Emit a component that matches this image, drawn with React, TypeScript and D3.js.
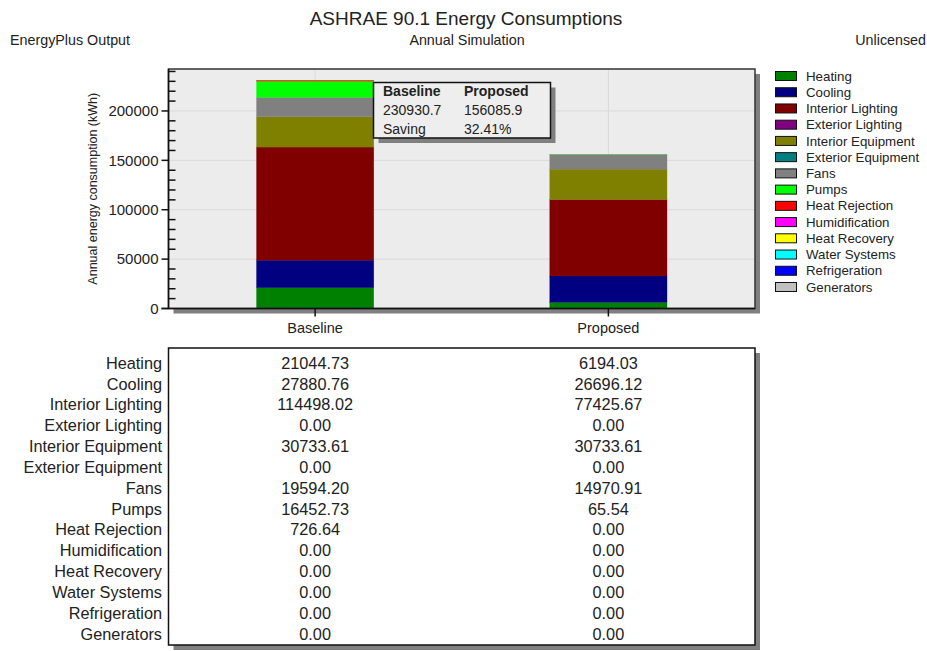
import React from "react";
import * as d3 from "d3";

const categories = [
  "Heating", "Cooling", "Interior Lighting", "Exterior Lighting", "Interior Equipment",
  "Exterior Equipment", "Fans", "Pumps", "Heat Rejection", "Humidification",
  "Heat Recovery", "Water Systems", "Refrigeration", "Generators",
];
const colors = [
  "#008000", "#000080", "#800000", "#800080", "#808000", "#008080", "#808080",
  "#00ff00", "#ff0000", "#ff00ff", "#ffff00", "#00ffff", "#0000ff", "#c0c0c0",
];
const cases = ["Baseline", "Proposed"];
const baselineValues = [21044.73, 27880.76, 114498.02, 0, 30733.61, 0, 19594.2, 16452.73, 726.64, 0, 0, 0, 0, 0];
const proposedValues = [6194.03, 26696.12, 77425.67, 0, 30733.61, 0, 14970.91, 65.54, 0, 0, 0, 0, 0, 0];
const yTicks = [0, 50000, 100000, 150000, 200000];

const W = 927, H = 651;
const plot = { left: 168.5, right: 755, top: 69, bottom: 308.5 };
const FONT = "'Liberation Sans', Arial, sans-serif";

export default function App() {
  const rows = cases.map((c, i) => {
    const vals = i === 0 ? baselineValues : proposedValues;
    const o: any = { case: c };
    categories.forEach((k, j) => (o[k] = vals[j]));
    return o;
  });
  const totals = [d3.sum(baselineValues), d3.sum(proposedValues)];
  const saving = 1 - totals[1] / totals[0];
  const stack = d3.stack().keys(categories)(rows as any);
  const x = d3.scaleBand().domain(cases).range([plot.left, plot.right]).paddingInner(0.6).paddingOuter(0.3);
  const xc = (c: string) => (x(c) as number) + x.bandwidth() / 2;
  const y = d3.scaleLinear().domain([0, (d3.max(totals) as number) * 1.05]).range([plot.bottom, plot.top]);
  const minorTicks = d3.range(0, y.domain()[1], 10000).filter((v) => v % 50000 !== 0);

  const tableTop = 348, tableBottom = 645;
  const rowY = d3.scalePoint().domain(categories).range([363, 634]);

  const tipX = 373.5, tipY = 82.5, tipW = 177, tipH = 55.5;

  return (
    <svg width={W} height={H} style={{ position: "absolute", left: 0, top: 0, background: "#fff" }} fontFamily={FONT}>
      {/* header */}
      <text x={466} y={25} textAnchor="middle" fontSize={19} fill="#222">ASHRAE 90.1 Energy Consumptions</text>
      <text x={10} y={45} fontSize={14.3} fill="#222">EnergyPlus Output</text>
      <text x={467} y={45} textAnchor="middle" fontSize={14.3} fill="#222">Annual Simulation</text>
      <text x={926} y={45} textAnchor="end" fontSize={14.3} fill="#222">Unlicensed</text>

      {/* plot frame */}
      <rect x={plot.left + 5} y={plot.top + 5} width={plot.right - plot.left} height={plot.bottom - plot.top} fill="#808080" />
      <rect x={plot.left} y={plot.top} width={plot.right - plot.left} height={plot.bottom - plot.top} fill="#ececec" />
      {yTicks.map((t) => (
        <line key={"g" + t} x1={plot.left} x2={plot.right} y1={y(t)} y2={y(t)} stroke="#dadada" strokeWidth={1} />
      ))}
      {cases.map((c) => (
        <line key={"vg" + c} x1={xc(c)} x2={xc(c)} y1={plot.top} y2={plot.bottom} stroke="#dadada" strokeWidth={1} />
      ))}

      {/* bars */}
      {stack.map((layer, li) => (
        <g key={categories[li]} fill={colors[li]}>
          {layer.map((d: any, i) => {
            const h = y(d[0]) - y(d[1]);
            if (h <= 0) return null;
            return <rect key={i} x={x(cases[i])} y={y(d[1])} width={x.bandwidth()} height={h} stroke={colors[li]} strokeOpacity={0.5} strokeWidth={0.5} />;
          })}
        </g>
      ))}

      {/* frame border */}
      <rect x={plot.left} y={plot.top} width={plot.right - plot.left} height={plot.bottom - plot.top} fill="none" stroke="#333" strokeWidth={1.5} />
      <line x1={plot.left} x2={plot.left} y1={plot.top} y2={plot.bottom} stroke="#111" strokeWidth={1.5} />
      <line x1={plot.left - 7} x2={plot.right} y1={plot.bottom} y2={plot.bottom} stroke="#111" strokeWidth={1.5} />

      {/* y axis */}
      {yTicks.map((t) => (
        <g key={"t" + t}>
          <line x1={plot.left - 7} x2={plot.left} y1={y(t)} y2={y(t)} stroke="#111" strokeWidth={1.5} />
          <text x={plot.left - 10} y={y(t)} dy="0.35em" textAnchor="end" fontSize={15} fill="#222">{t}</text>
        </g>
      ))}
      {minorTicks.map((t) => (
        <line key={"m" + t} x1={plot.left} x2={plot.left + 7} y1={y(t)} y2={y(t)} stroke="#111" strokeWidth={1.5} />
      ))}
      <text transform={`translate(97,${(plot.top + plot.bottom) / 2}) rotate(-90)`} textAnchor="middle" fontSize={12.5} fill="#222">
        Annual energy consumption (kWh)
      </text>

      {/* x axis */}
      {cases.map((c) => (
        <g key={"x" + c}>
          <line x1={xc(c)} x2={xc(c)} y1={plot.bottom} y2={plot.bottom + 8} stroke="#111" strokeWidth={1.5} />
          <text x={xc(c)} y={333} textAnchor="middle" fontSize={14.5} fill="#222">{c}</text>
        </g>
      ))}

      {/* tooltip box */}
      <rect x={tipX + 5} y={tipY + 5} width={tipW} height={tipH} fill="#808080" />
      <rect x={tipX} y={tipY} width={tipW} height={tipH} fill="#eeeeee" stroke="#111" strokeWidth={1.5} />
      <g fontSize={14} fill="#222">
        <text x={383} y={96} fontWeight="bold">{cases[0]}</text>
        <text x={464} y={96} fontWeight="bold">{cases[1]}</text>
        <text x={383} y={115}>{totals[0].toFixed(1)}</text>
        <text x={464} y={115}>{totals[1].toFixed(1)}</text>
        <text x={383} y={133.5}>Saving</text>
        <text x={464} y={133.5}>{(saving * 100).toFixed(2)}%</text>
      </g>

      {/* legend */}
      {categories.map((c, i) => {
        const ly = 76 + i * 16.23;
        return (
          <g key={"l" + c}>
            <rect x={775.5} y={ly - 4.5} width={21} height={9} fill={colors[i]} stroke="#111" strokeWidth={1} />
            <text x={806} y={ly} dy="0.35em" fontSize={13.3} fill="#222">{c}</text>
          </g>
        );
      })}

      {/* table */}
      <rect x={plot.left + 5} y={tableTop + 5} width={plot.right - plot.left} height={tableBottom - tableTop} fill="#808080" />
      <rect x={plot.left} y={tableTop} width={plot.right - plot.left} height={tableBottom - tableTop} fill="#fff" stroke="#111" strokeWidth={1.5} />
      {categories.map((c, i) => (
        <g key={"r" + c} fontSize={16.3} fill="#222">
          <text x={162} y={rowY(c)} dy="0.35em" textAnchor="end">{c}</text>
          <text x={xc(cases[0])} y={rowY(c)} dy="0.35em" textAnchor="middle">{baselineValues[i].toFixed(2)}</text>
          <text x={xc(cases[1])} y={rowY(c)} dy="0.35em" textAnchor="middle">{proposedValues[i].toFixed(2)}</text>
        </g>
      ))}
    </svg>
  );
}
